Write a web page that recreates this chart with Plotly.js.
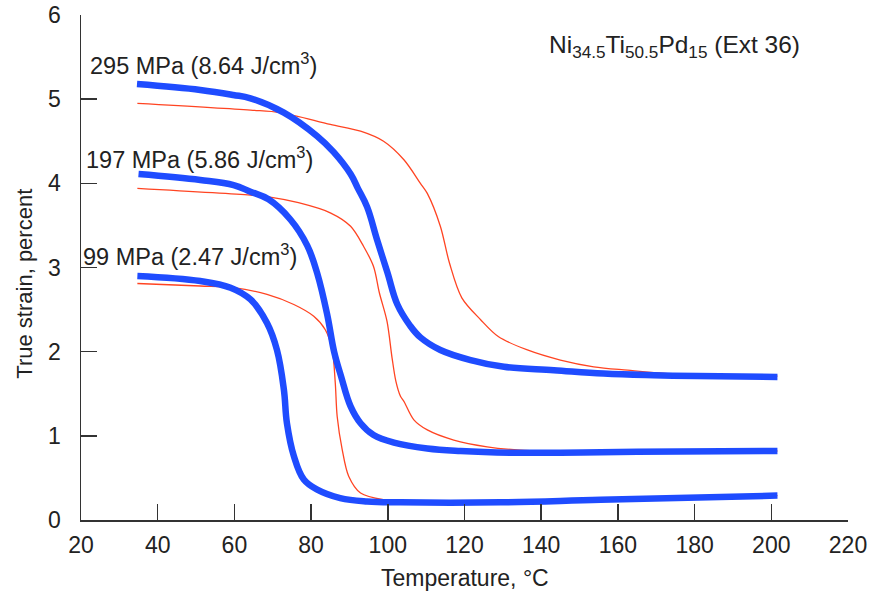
<!DOCTYPE html>
<html>
<head>
<meta charset="utf-8">
<script src="https://cdn.plot.ly/plotly-3.0.1.min.js"></script>
<style>html,body{margin:0;padding:0;background:#fff;}#chart{width:870px;height:595px;}</style>
</head>
<body>
<div id="chart"></div>
<script>
// ---- data ----
const cool295T = [34.6, 51.1, 59.7, 64.2, 72.9, 81.6, 85.9, 90.3, 92.2, 94.6, 97.2, 99.9, 102.5, 105.8, 108.5, 113.7, 121.6, 130.3, 143.3, 156.3, 169.4, 180.7, 201.6];
const cool295S = [5.18, 5.11, 5.05, 5.01, 4.84, 4.56, 4.37, 4.11, 3.94, 3.72, 3.33, 2.94, 2.56, 2.31, 2.17, 2.02, 1.90, 1.82, 1.78, 1.74, 1.72, 1.71, 1.70];

const heat295T = [34.7, 64.2, 72.0, 85.0, 92.9, 98.9, 104.2, 108.5, 110.3, 113.7, 116.1, 119.3, 124.2, 128.8, 136.4, 145.0, 153.7, 162.5, 172.9, 186.8, 201.6];
const heat295S = [4.95, 4.87, 4.84, 4.70, 4.62, 4.50, 4.28, 4.00, 3.88, 3.49, 3.05, 2.64, 2.38, 2.18, 2.02, 1.90, 1.82, 1.78, 1.74, 1.72, 1.71];

const cool197T = [35.0, 51.1, 59.8, 64.2, 68.9, 74.6, 79.0, 81.6, 84.2, 86.0, 87.8, 90.3, 92.9, 96.3, 101.6, 110.3, 119.0, 132.0, 145.0, 165.1, 201.6];
const cool197S = [4.11, 4.04, 3.98, 3.90, 3.81, 3.57, 3.26, 2.93, 2.44, 2.00, 1.71, 1.35, 1.15, 1.01, 0.92, 0.85, 0.82, 0.80, 0.80, 0.81, 0.82];

const heat197T = [34.7, 64.2, 68.9, 76.7, 85.0, 90.3, 93.7, 96.3, 97.8, 99.8, 101.1, 102.1, 103.3, 104.2, 106.8, 110.3, 117.2, 125.9, 134.6, 142.4, 165.1, 201.6];
const heat197S = [3.94, 3.86, 3.84, 3.77, 3.65, 3.49, 3.25, 3.01, 2.70, 2.36, 1.93, 1.65, 1.47, 1.41, 1.19, 1.07, 0.95, 0.87, 0.83, 0.82, 0.81, 0.82];

const cool99T = [34.7, 51.1, 59.0, 64.2, 68.5, 71.1, 72.9, 73.7, 75.5, 78.1, 81.6, 87.6, 94.6, 103.3, 129.4, 155.5, 201.6];
const cool99S = [2.90, 2.84, 2.76, 2.62, 2.34, 2.02, 1.55, 1.15, 0.76, 0.48, 0.36, 0.26, 0.22, 0.21, 0.21, 0.24, 0.29];

const heat99T = [34.7, 51.1, 59.8, 68.5, 75.5, 80.7, 83.7, 85.5, 86.3, 86.8, 88.1, 89.8, 92.9, 98.9, 103.3, 129.4, 155.5, 201.6];
const heat99S = [2.81, 2.78, 2.76, 2.68, 2.56, 2.42, 2.26, 2.02, 1.63, 1.23, 0.84, 0.52, 0.32, 0.24, 0.23, 0.22, 0.24, 0.29];

const xTicks = [20, 40, 60, 80, 100, 120, 140, 160, 180, 200, 220];
const yTicks = [0, 1, 2, 3, 4, 5, 6];

const loadLabels = [
  '295 MPa (8.64 J/cm<sup>3</sup>)',
  '197 MPa (5.86 J/cm<sup>3</sup>)',
  '99 MPa (2.47 J/cm<sup>3</sup>)'
];
const alloyLabel = 'Ni<sub>34.5</sub>Ti<sub>50.5</sub>Pd<sub>15</sub> (Ext 36)';
const xTitle = 'Temperature, °C';
const yTitle = 'True strain, percent';

// ---- styles ----
const BLUE = '#1f4cff';
const RED = '#ff4422';
const FONT = 'Liberation Sans, Arial, Helvetica, sans-serif';
const TXT = '#222';

function heat(x, y) {
  return {x: x, y: y, type: 'scatter', mode: 'lines', line: {color: RED, width: 1.3, shape: 'spline', smoothing: 0.9}, hoverinfo: 'skip'};
}
function cool(x, y) {
  return {x: x, y: y, type: 'scatter', mode: 'lines', line: {color: BLUE, width: 6.5, shape: 'spline', smoothing: 1.1}, hoverinfo: 'skip'};
}

const traces = [
  heat(heat295T, heat295S), heat(heat197T, heat197S), heat(heat99T, heat99S),
  cool(cool295T, cool295S), cool(cool197T, cool197S), cool(cool99T, cool99S)
];

const axisCommon = {
  showgrid: false, zeroline: false, showline: true, linecolor: '#333', linewidth: 1.5,
  ticks: 'inside', ticklen: 16, tickwidth: 1.5, tickcolor: '#333',
  tickfont: {family: FONT, size: 23, color: TXT}, fixedrange: true
};

function label(xp, y, text, size) {
  return {x: xp, y: y, xref: 'paper', yref: 'y', text: text, showarrow: false, xanchor: 'left', yanchor: 'middle',
          font: {family: FONT, size: size, color: TXT}};
}

const layout = {
  width: 870, height: 595,
  margin: {l: 81, r: 22, t: 15, b: 75},
  paper_bgcolor: '#fff', plot_bgcolor: '#fff',
  showlegend: false,
  xaxis: Object.assign({}, axisCommon, {range: [20, 220], tickvals: xTicks, ticklabelstandoff: 4}),
  yaxis: Object.assign({}, axisCommon, {range: [0, 6], tickvals: yTicks, ticklabelstandoff: 14}),
  annotations: [
    label(0.009, 5.42, loadLabels[0], 23.5),
    label(0.0045, 4.30, loadLabels[1], 23.5),
    label(-0.0005, 3.15, loadLabels[2], 23.5),
    label(0.608, 5.62, alloyLabel, 24.5),
    {x: 0.5, y: -0.115, xref: 'paper', yref: 'paper', text: xTitle, showarrow: false, xanchor: 'center', yanchor: 'middle', font: {family: FONT, size: 23, color: TXT}},
    {x: -0.073, y: 0.468, xref: 'paper', yref: 'paper', text: yTitle, textangle: -90, showarrow: false, xanchor: 'center', yanchor: 'middle', font: {family: FONT, size: 22, color: TXT}}
  ]
};

Plotly.newPlot('chart', traces, layout, {staticPlot: true, displayModeBar: false});
</script>
</body>
</html>
